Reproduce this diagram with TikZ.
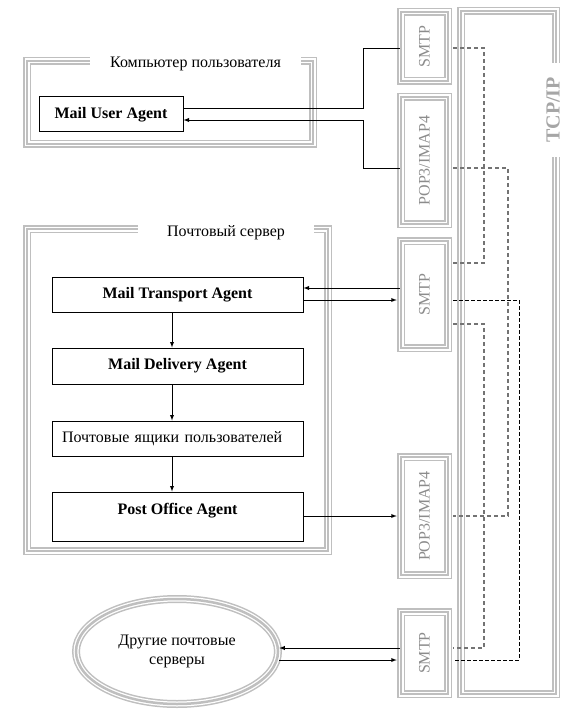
\documentclass[tikz,border=0pt]{standalone}
\usepackage{fontspec}
\setmainfont{Liberation Serif}
\usetikzlibrary{shapes.geometric,positioning}
\newcommand{\figsize}{\fontsize{16}{19}\selectfont}
\tikzset{
  frame/.style={preaction={draw=black!25,line width=8pt},preaction={draw=white,line width=5pt},draw=black!25,line width=2.5pt},
  proto/.style={frame,minimum width=47pt,inner sep=0pt,text=black!45},
  agent/.style={draw,line width=1pt,minimum width=251pt,minimum height=35pt,inner sep=0pt,font=\figsize\bfseries},
  boxtitle/.style={fill=white,inner ysep=2pt},
  link/.style={line width=0.9pt},
  busA/.style={draw=black!55,line width=1.5pt,dash pattern=on 4pt off 3pt},
  busB/.style={line width=0.9pt,dash pattern=on 4pt off 2pt},
}
\begin{document}
\begin{tikzpicture}[x=1pt,y=-1pt,font=\figsize]
		\useasboundingbox (0,0) rectangle (574,722);
		\node[frame,minimum width=95pt,minimum height=683pt] (tcpip) at (508.5,352.5) {};
		\node[fill=white,inner xsep=2pt,inner ysep=14pt,text=black!35,font=\bfseries\fontsize{20}{24}\selectfont] (tcptitle) at (553,110) {\rotatebox{90}{TCP/IP}};
		\node[proto,minimum height=69pt] (smtpA) at (424.5,46.5) {\rotatebox{90}{SMTP}};
		\node[proto,minimum height=127pt] (popA) at (424.5,160.5) {\rotatebox{90}{POP3/IMAP4}};
		\node[proto,minimum height=107pt] (smtpB) at (424.5,294.5) {\rotatebox{90}{SMTP}};
		\node[proto,minimum height=118pt] (popB) at (424.5,516) {\rotatebox{90}{POP3/IMAP4}};
		\node[proto,minimum height=82pt] (smtpC) at (424.5,653) {\rotatebox{90}{SMTP}};
		\node[frame,minimum width=286pt,minimum height=83pt] (userpc) at (170,102.5) {};
		\node[boxtitle,inner xsep=20pt] (pctitle) at (195.5,64) {Компьютер пользователя};
		\node[frame,minimum width=301pt,minimum height=322pt] (server) at (177.5,390) {};
		\node[boxtitle,inner xsep=29pt] (srvtitle) at (226,233) {Почтовый сервер};
		\node[frame,ellipse,minimum width=202pt,minimum height=105pt,inner sep=0pt,align=center] (other) at (177,651.5) {Другие почтовые\\серверы};
		\node[agent,minimum width=144pt] (mua) at (111,114.5) {Mail User Agent};
		\node[agent] (mta) at (177.5,294.5) {Mail Transport Agent};
		\node[agent,minimum height=36pt] (mda) at (177.5,366) {Mail Delivery Agent};
		\node[agent,font=\figsize,align=left,text width=231pt,inner xsep=10pt] (mbox) at (177.5,438.5) {Почтовые ящики пользователей};
		\node[agent,text height=18pt,text depth=23pt,inner ysep=4pt] (poa) at (177.5,516.5) {Post Office Agent};
		\draw[link,-latex] (172,0 |- mta.south) -- (172,0 |- mda.north);
		\draw[link,-latex] (172,0 |- mda.south) -- (172,0 |- mbox.north);
		\draw[link,-latex] (172,0 |- mbox.south) -- (172,0 |- poa.north);
		\draw[link] (mua.east |- 0,108) -| (363,48) -- (smtpA.west |- 0,48);
		\draw[link,-latex] (popA.west |- 0,168) -| (363,120) -- (mua.east |- 0,120);
		\draw[link,-latex] (smtpB.west |- 0,288) -- (mta.east |- 0,288);
		\draw[link,-latex,shorten >=3pt] (mta.east |- 0,300) -- (smtpB.west |- 0,300);
		\draw[link,-latex,shorten >=3pt] (poa.east |- 0,516) -- (popB.west |- 0,516);
		\draw[link,-latex] (smtpC.west |- 0,648) -- (other.east |- 0,648);
		\draw[link,-latex,shorten >=3pt] (other.east |- 0,660) -- (smtpC.west |- 0,660);
		\draw[busA] ([xshift=4pt]smtpA.east |- 0,48) -| (484,263) -- ([xshift=4pt]smtpB.east |- 0,263);
		\draw[busA] ([xshift=4pt]popA.east |- 0,168) -| (508,516) -- ([xshift=4pt]popB.east |- 0,516);
		\draw[busB] ([xshift=4pt]smtpB.east |- 0,300) -| (519,660) -- ([xshift=4pt]smtpC.east |- 0,660);
		\draw[busA] ([xshift=4pt]smtpB.east |- 0,324) -| (484,648) -- ([xshift=4pt]smtpC.east |- 0,648);
	\end{tikzpicture}
\end{document}
